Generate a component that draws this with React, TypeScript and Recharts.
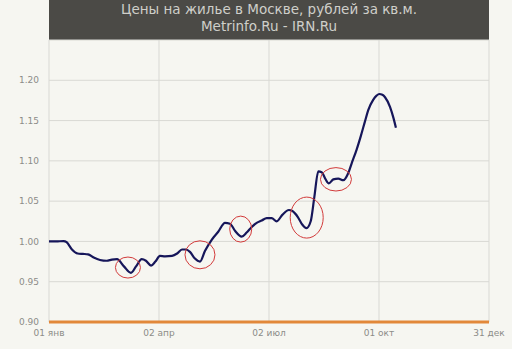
import React from 'react';
import { LineChart, Line, XAxis, YAxis, CartesianGrid, ReferenceDot } from 'recharts';

// day of year (0 = 01 янв) and price index
const days = [0, 6, 12, 14.6, 19, 23.7, 28, 32.3, 37, 42.2, 47.7, 52, 56.3, 62, 67.8, 72, 76.7, 80.2, 84.4, 88, 91.8, 96, 101.8, 106, 110, 113.3, 116.6, 120.5, 124.9, 129, 134.6, 140, 145.6, 149.7, 154, 159.4, 163.5, 167.7, 171.8, 176, 180.1, 184.2, 188.4, 193, 198.5, 201, 206, 209.5, 213, 216.5, 219.5, 222.8, 225.6, 228.5, 231.5, 235.2, 239.3, 243.5, 247.6, 250.4, 254.5, 258, 261.4, 264.1, 268.3, 271, 273.2, 275.8, 278, 282.1, 285, 287];
const values = [1.0, 1.0, 1.0005, 0.999, 0.99, 0.985, 0.9845, 0.984, 0.98, 0.977, 0.976, 0.9775, 0.978, 0.969, 0.961, 0.969, 0.978, 0.976, 0.97, 0.975, 0.982, 0.9815, 0.982, 0.985, 0.99, 0.99, 0.987, 0.979, 0.975, 0.988, 1.002, 1.012, 1.023, 1.022, 1.013, 1.006, 1.011, 1.018, 1.023, 1.026, 1.029, 1.029, 1.025, 1.033, 1.039, 1.038, 1.030, 1.021, 1.0165, 1.025, 1.055, 1.087, 1.086, 1.078, 1.072, 1.077, 1.078, 1.076, 1.085, 1.097, 1.114, 1.131, 1.149, 1.163, 1.176, 1.181, 1.183, 1.182, 1.179, 1.167, 1.153, 1.141];

const xTicks = [0, 91, 182, 273, 364];
const xTickLabels = ['01 янв', '02 апр', '02 июл', '01 окт', '31 дек'];
const yTicks = [0.9, 0.95, 1.0, 1.05, 1.1, 1.15, 1.2];

// annotation circles (centre in data units)
const annDays = [65.3, 124.9, 158.6, 213.2, 237.4];
const annValues = [0.9676, 0.9834, 1.0153, 1.0296, 1.0771];
// annotation radii (px) — style
const annRx = [12.5, 15, 11, 16.5, 15.5];
const annRy = [10.5, 14, 13, 20.5, 11.7];

const titleLine1 = 'Цены на жилье в Москве, рублей за кв.м.';
const titleLine2 = 'Metrinfo.Ru - IRN.Ru';

const data = days.map((d, i) => ({ day: d, value: values[i] }));

export default function App() {
  return (
    <div style={{ position: 'absolute', left: 0, top: 0, width: 512, height: 349, background: '#f6f6f1', overflow: 'hidden' }}>
      <div
        style={{
          position: 'absolute',
          left: 49,
          top: 0,
          width: 440,
          height: 40,
          background: '#4b4a46',
          color: '#cfcfca',
          fontFamily: '"DejaVu Sans", sans-serif',
          fontSize: 13.5,
          lineHeight: '17px',
          textAlign: 'center',
          paddingTop: 1,
          boxSizing: 'border-box',
        }}
      >
        <div>{titleLine1}</div>
        <div>{titleLine2}</div>
      </div>
      <LineChart width={512} height={349} data={data} margin={{ top: 40, right: 23, bottom: 0, left: 0 }}>
        <CartesianGrid stroke="#d9d9d4" strokeWidth={1} />
        <XAxis
          dataKey="day"
          type="number"
          domain={[0, 364]}
          ticks={xTicks}
          tickFormatter={(v: number) => xTickLabels[xTicks.indexOf(v)] ?? ''}
          height={27}
          axisLine={{ stroke: '#e2883a', strokeWidth: 3 }}
          tickLine={false}
          tick={{ fill: '#8c8c88', fontSize: 9, fontFamily: '"DejaVu Sans", sans-serif' }}
          interval={0}
        />
        <YAxis
          type="number"
          domain={[0.9, 1.25]}
          ticks={yTicks}
          width={49}
          axisLine={false}
          tickLine={false}
          tickFormatter={(v: number) => v.toFixed(2)}
          tick={{ fill: '#8c8c88', fontSize: 9, fontFamily: '"DejaVu Sans", sans-serif' }}
          tickMargin={4}
          interval={0}
          allowDataOverflow
        />
        <Line
          type="monotone"
          dataKey="value"
          stroke="#16165a"
          strokeWidth={2.2}
          dot={false}
          isAnimationActive={false}
        />
        {annDays.map((d, i) => (
          <ReferenceDot
            key={i}
            x={d}
            y={annValues[i]}
            r={annRx[i]}
            ifOverflow="visible"
            shape={(p: any) => (
              <ellipse cx={p.cx} cy={p.cy} rx={annRx[i]} ry={annRy[i]} fill="none" stroke="#d23a3a" strokeWidth={1} />
            )}
          />
        ))}
      </LineChart>
    </div>
  );
}
